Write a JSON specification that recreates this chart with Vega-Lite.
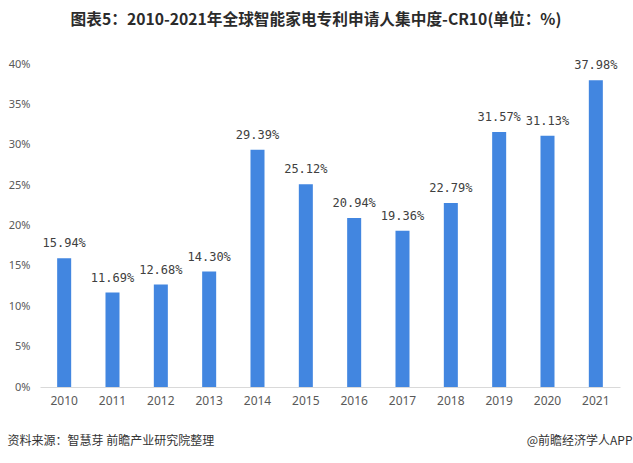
{
  "$schema": "https://vega.github.io/schema/vega-lite/v6.json",
  "autosize": "none",
  "width": 580,
  "height": 323,
  "padding": {"left": 40, "top": 64, "right": 13, "bottom": 76},
  "background": "white",
  "config": {"view": {"stroke": null}, "font": "Noto Sans CJK SC"},
  "title": {
    "text": "图表5：2010-2021年全球智能家电专利申请人集中度-CR10(单位：%)",
    "font": "Noto Sans CJK SC",
    "fontSize": 15.7,
    "fontWeight": "bold",
    "color": "#2b2b2b",
    "anchor": "middle",
    "frame": "group",
    "baseline": "middle",
    "offset": 22,
    "dx": -14
  },
  "data": {
    "values": [
      {"year": "2010", "value": 15.94},
      {"year": "2011", "value": 11.69},
      {"year": "2012", "value": 12.68},
      {"year": "2013", "value": 14.30},
      {"year": "2014", "value": 29.39},
      {"year": "2015", "value": 25.12},
      {"year": "2016", "value": 20.94},
      {"year": "2017", "value": 19.36},
      {"year": "2018", "value": 22.79},
      {"year": "2019", "value": 31.57},
      {"year": "2020", "value": 31.13},
      {"year": "2021", "value": 37.98}
    ]
  },
  "transform": [
    {"calculate": "format(datum.value, '.2f') + '%'", "as": "label"}
  ],
  "encoding": {
    "x": {
      "field": "year",
      "type": "nominal",
      "sort": null,
      "scale": {"paddingInner": 0.71, "paddingOuter": 0.355},
      "axis": {
        "labelAngle": 0,
        "labelFontSize": 12,
        "labelColor": "#595959",
        "labelFont": "Noto Sans",
        "labelPadding": 8,
        "ticks": false,
        "domainColor": "#d9d9d9",
        "title": "资料来源：智慧芽 前瞻产业研究院整理",
        "titleFont": "Noto Sans CJK SC",
        "titleFontSize": 12,
        "titleFontWeight": "normal",
        "titleColor": "#333333",
        "titleAnchor": "start",
        "titleAlign": "left",
        "titleBaseline": "middle",
        "titleX": -33,
        "titleY": 53
      }
    },
    "y": {
      "field": "value",
      "type": "quantitative",
      "scale": {"domain": [0, 40]},
      "axis": {
        "values": [0, 5, 10, 15, 20, 25, 30, 35, 40],
        "labelExpr": "datum.value + '%'",
        "grid": false,
        "domain": false,
        "ticks": false,
        "labelFontSize": 11,
        "labelColor": "#595959",
        "labelFont": "Noto Sans",
        "labelPadding": 10,
        "title": "@前瞻经济学人APP",
        "titleFont": "Noto Sans CJK SC",
        "titleFontSize": 12,
        "titleFontWeight": "normal",
        "titleColor": "#333333",
        "titleAngle": 0,
        "titleAlign": "right",
        "titleBaseline": "middle",
        "titleX": 592,
        "titleY": 376
      }
    }
  },
  "layer": [
    {"mark": {"type": "bar", "color": "#4286e0"}},
    {
      "mark": {"type": "text", "baseline": "middle", "dy": -15, "fontSize": 12, "color": "#404040", "font": "DejaVu Sans Mono"},
      "encoding": {"text": {"field": "label", "type": "nominal"}}
    }
  ]
}
